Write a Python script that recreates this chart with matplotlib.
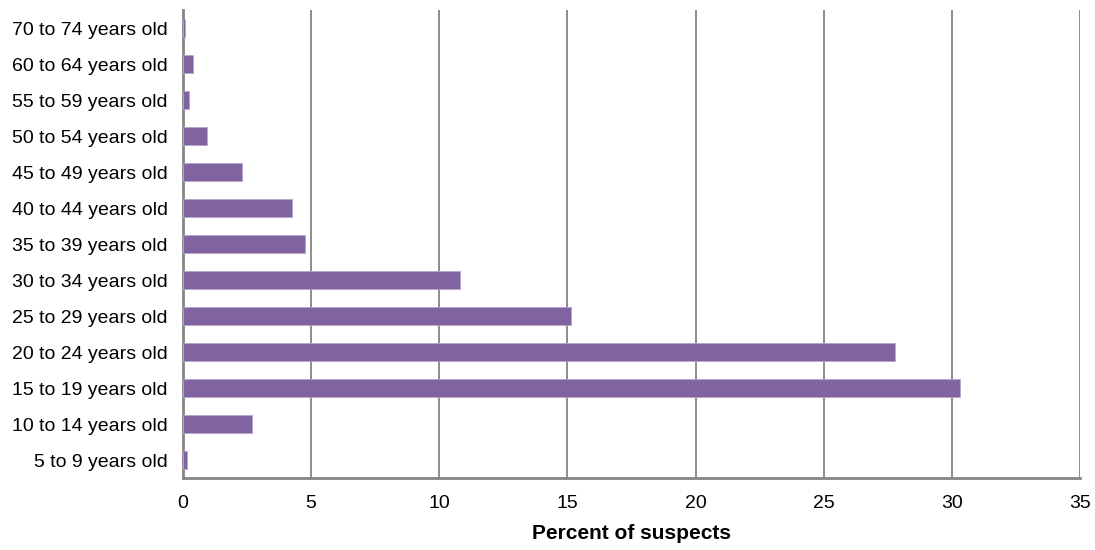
import matplotlib
matplotlib.use("Agg")
import matplotlib.pyplot as plt

# age groups, bottom to top
age_groups = ["5 to 9 years old", "10 to 14 years old", "15 to 19 years old",
              "20 to 24 years old", "25 to 29 years old", "30 to 34 years old",
              "35 to 39 years old", "40 to 44 years old", "45 to 49 years old",
              "50 to 54 years old", "55 to 59 years old", "60 to 64 years old",
              "70 to 74 years old"]
percent = [0.17, 2.7, 30.32, 27.77, 15.13, 10.8, 4.75, 4.27, 2.29,
           0.95, 0.23, 0.38, 0.09]
x_ticks = [0, 5, 10, 15, 20, 25, 30, 35]

plt.rcParams['font.family'] = ['Liberation Sans', 'DejaVu Sans']

fig = plt.figure(figsize=(10.95, 5.5), dpi=100)
ax = fig.add_axes([0.1671, 0.1309, 0.8192, 0.8509])

ax.barh(range(len(age_groups)), percent, height=0.49, color="#8064A2",
        edgecolor="#b7a6cc", linewidth=0.6, zorder=3)

ax.set_xlim(0, 35)
ax.set_ylim(-0.5, len(age_groups) - 0.5)
ax.set_xticks(x_ticks)
ax.set_yticks(range(len(age_groups)))
ax.set_yticklabels(age_groups)
ax.tick_params(axis="both", length=0, labelsize=14, colors="black")
ax.tick_params(axis="y", pad=11)
ax.tick_params(axis="x", pad=12)

ax.grid(axis="x", color="#8c8c8c", linewidth=1.4, zorder=0)
for s in ["top", "right"]:
    ax.spines[s].set_visible(False)
for s in ["left", "bottom"]:
    ax.spines[s].set_color("#858585")
    ax.spines[s].set_linewidth(2)

ax.set_xlabel("Percent of suspects", fontsize=15, fontweight="bold", labelpad=9)

fig.savefig("out.png", dpi=100)
